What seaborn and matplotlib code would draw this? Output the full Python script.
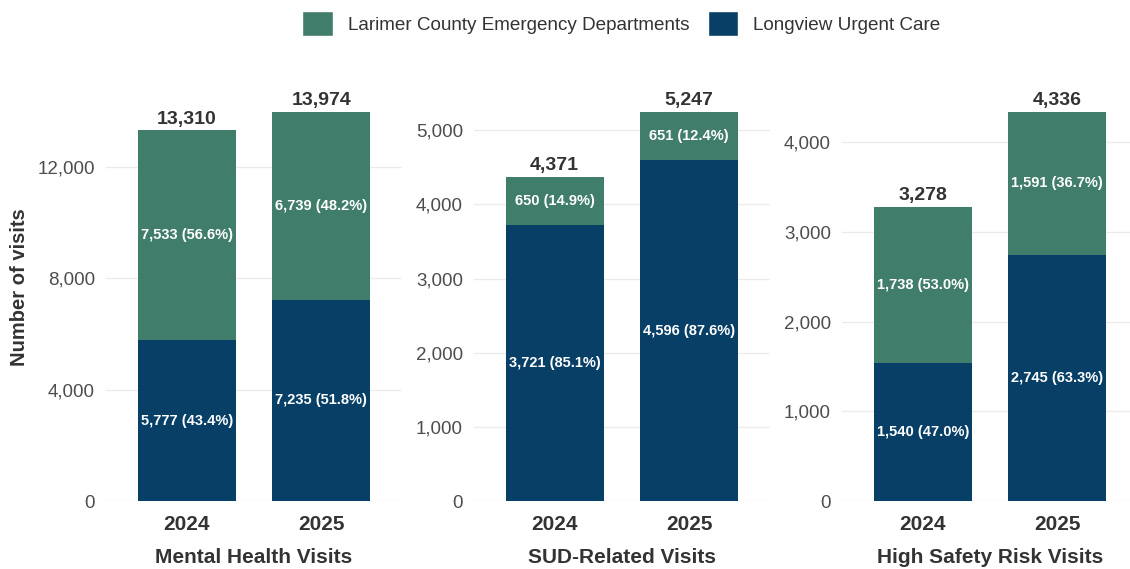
import matplotlib.pyplot as plt
import seaborn as sns
import pandas as pd
from matplotlib.patches import Patch
from matplotlib.ticker import FuncFormatter

# data
panels = ["Mental Health Visits", "SUD-Related Visits", "High Safety Risk Visits"]
years = ["2024", "2025"]
longview = [[5777, 7235], [3721, 4596], [1540, 2745]]
larimer = [[7533, 6739], [650, 651], [1738, 1591]]
yticks = [[0, 4000, 8000, 12000], [0, 1000, 2000, 3000, 4000, 5000], [0, 1000, 2000, 3000, 4000]]

green = "#417D6B"
navy = "#083F67"
grey_txt = "#4D4D4D"
dark_txt = "#333333"

sns.set_theme(style="white")
plt.rcParams['font.family'] = ['Liberation Sans', 'DejaVu Sans']

fig = plt.figure(figsize=(11.3, 5.69), dpi=100)
lefts = [106, 474, 842]
W, H = 1130, 569

for i, name in enumerate(panels):
    ax = fig.add_axes([lefts[i] / W, (H - 501) / H, 296 / W, 428 / H])
    df = pd.DataFrame({
        "year": years,
        "luc": longview[i],
        "lced": larimer[i],
    })
    df["total"] = df["luc"] + df["lced"]
    # total bar in green, then Longview on top of it in navy
    sns.barplot(data=df, x="year", y="total", color=green, width=0.73,
                saturation=1, linewidth=0, ax=ax, zorder=2)
    sns.barplot(data=df, x="year", y="luc", color=navy, width=0.73,
                saturation=1, linewidth=0, ax=ax, zorder=3)

    ymax = df["total"].max() * 1.1
    ax.set_ylim(0, ymax)
    ax.set_xlim(-0.6, 1.6)
    ax.set_yticks(yticks[i])
    ax.yaxis.set_major_formatter(FuncFormatter(lambda v, p: f"{int(v):,}"))
    ax.grid(axis="y", color="#EBEBEB", lw=1, zorder=0)
    ax.set_axisbelow(True)
    for s in ax.spines.values():
        s.set_visible(False)
    ax.tick_params(axis="y", labelsize=13.5, labelcolor=grey_txt, length=0, pad=8)
    ax.tick_params(axis="x", labelsize=15, labelcolor=dark_txt, length=0, pad=10)
    for lbl in ax.get_xticklabels():
        lbl.set_fontweight("bold")
    ax.set_xlabel(name, fontsize=15, fontweight="bold", color=dark_txt, labelpad=10)
    if i == 0:
        ax.set_ylabel("Number of visits", fontsize=14.5, fontweight="bold",
                      color=dark_txt, labelpad=6)
    else:
        ax.set_ylabel("")

    for j, row in df.iterrows():
        tot = row["total"]
        ax.text(j, row["luc"] / 2, f"{row['luc']:,} ({row['luc'] / tot * 100:.1f}%)",
                ha="center", va="center", color="white", fontsize=10.5,
                fontweight="bold", zorder=5)
        ax.text(j, row["luc"] + row["lced"] / 2,
                f"{row['lced']:,} ({row['lced'] / tot * 100:.1f}%)",
                ha="center", va="center", color="white", fontsize=10.5,
                fontweight="bold", zorder=5)
        ax.text(j, tot + ymax * 0.006, f"{tot:,}", ha="center", va="bottom",
                color=dark_txt, fontsize=14, fontweight="bold", zorder=5)

handles = [Patch(facecolor=green, label="Larimer County Emergency Departments"),
           Patch(facecolor=navy, label="Longview Urgent Care")]
fig.legend(handles=handles, loc="upper center", bbox_to_anchor=(0.55, 1.01), ncol=2,
           frameon=False, fontsize=13.6, handlelength=1.6, handleheight=1.6,
           handletextpad=0.8, columnspacing=1.0, labelcolor=dark_txt)

plt.savefig("out.png", dpi=100)
plt.close()
